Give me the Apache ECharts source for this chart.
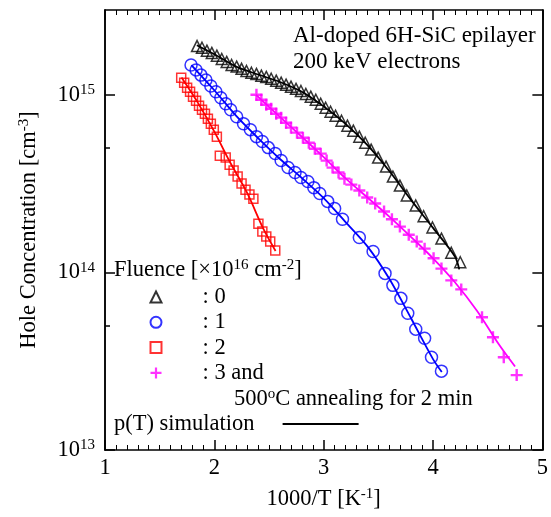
<!DOCTYPE html>
<html><head><meta charset="utf-8">
<script src="https://cdn.jsdelivr.net/npm/echarts@6/dist/echarts.min.js"></script>
<style>html,body{margin:0;padding:0;background:#fff}#c{width:551px;height:517px}</style>
</head><body><div id="c"></div>
<script>
// x: 1000/T [1/K], y: hole concentration [cm^-3]
const fluence0 = [[1.842,1.88e15],[1.887,1.84e15],[1.932,1.77e15],[1.977,1.72e15],[2.023,1.66e15],[2.068,1.59e15],[2.113,1.53e15],[2.158,1.47e15],[2.204,1.44e15],[2.249,1.40e15],[2.294,1.36e15],[2.339,1.33e15],[2.385,1.31e15],[2.430,1.28e15],[2.475,1.26e15],[2.520,1.23e15],[2.566,1.20e15],[2.611,1.17e15],[2.656,1.14e15],[2.701,1.11e15],[2.747,1.08e15],[2.792,1.05e15],[2.837,1.01e15],[2.882,9.75e14],[2.928,9.37e14],[2.973,8.90e14],[3.018,8.45e14],[3.063,8.02e14],[3.109,7.62e14],[3.163,7.14e14],[3.217,6.70e14],[3.271,6.28e14],[3.326,5.81e14],[3.380,5.37e14],[3.434,4.91e14],[3.498,4.43e14],[3.570,3.94e14],[3.633,3.46e14],[3.697,3.08e14],[3.760,2.71e14],[3.842,2.38e14],[3.914,2.07e14],[3.995,1.79e14],[4.077,1.55e14],[4.167,1.29e14],[4.249,1.14e14]];
const fit0 = [[1.84,1.9e15],[2.0,1.69e15],[2.2,1.44e15],[2.4,1.30e15],[2.6,1.18e15],[2.8,1.04e15],[3.0,8.6e14],[3.2,6.85e14],[3.4,5.2e14],[3.6,3.72e14],[3.8,2.55e14],[4.0,1.78e14],[4.2,1.23e14],[4.24,1.04e14]];

const fluence1 = [[1.787,1.47e15],[1.833,1.38e15],[1.878,1.29e15],[1.923,1.21e15],[1.968,1.12e15],[2.014,1.04e15],[2.059,9.62e14],[2.104,8.90e14],[2.149,8.24e14],[2.204,7.52e14],[2.267,6.87e14],[2.330,6.36e14],[2.385,5.81e14],[2.439,5.45e14],[2.493,5.04e14],[2.557,4.67e14],[2.611,4.26e14],[2.674,3.89e14],[2.738,3.65e14],[2.792,3.42e14],[2.855,3.25e14],[2.910,3.00e14],[2.964,2.78e14],[3.036,2.51e14],[3.100,2.29e14],[3.172,1.99e14],[3.326,1.57e14],[3.452,1.31e14],[3.561,9.87e13],[3.633,8.45e13],[3.706,7.14e13],[3.769,5.89e13],[3.842,4.79e13],[3.923,4.26e13],[3.986,3.33e13],[4.077,2.78e13]];
const fit1 = [[1.79,1.47e15],[2.0,1.06e15],[2.2,7.6e14],[2.4,5.7e14],[2.6,4.35e14],[2.8,3.4e14],[3.0,2.62e14],[3.2,1.92e14],[3.4,1.4e14],[3.6,9.2e13],[3.8,5.5e13],[4.0,3.25e13],[4.08,2.75e13]];

const fluence2 = [[1.697,1.246e15],[1.724,1.168e15],[1.751,1.095e15],[1.778,1.04e15],[1.805,9.74e14],[1.833,9.25e14],[1.860,8.67e14],[1.887,8.24e14],[1.914,7.82e14],[1.941,7.33e14],[1.968,6.87e14],[1.995,6.36e14],[2.023,5.81e14],[2.050,4.54e14],[2.104,4.43e14],[2.140,4.04e14],[2.176,3.74e14],[2.213,3.46e14],[2.249,3.16e14],[2.285,2.92e14],[2.321,2.74e14],[2.357,2.60e14],[2.403,1.88e14],[2.439,1.70e14],[2.475,1.59e14],[2.511,1.49e14],[2.557,1.33e14]];
const fit2 = [[1.70,1.25e15],[1.85,9.0e14],[2.0,6.2e14],[2.15,4.1e14],[2.3,2.8e14],[2.45,1.75e14],[2.56,1.32e14]];

const fluence3 = [[2.385,1.00e15],[2.430,9.37e14],[2.475,8.79e14],[2.520,8.34e14],[2.566,7.82e14],[2.611,7.43e14],[2.656,6.96e14],[2.701,6.53e14],[2.756,6.12e14],[2.810,5.73e14],[2.864,5.37e14],[2.919,4.97e14],[2.973,4.66e14],[3.027,4.26e14],[3.081,3.89e14],[3.136,3.65e14],[3.190,3.37e14],[3.253,3.12e14],[3.326,2.89e14],[3.398,2.64e14],[3.471,2.44e14],[3.552,2.20e14],[3.624,1.99e14],[3.697,1.81e14],[3.778,1.63e14],[3.851,1.49e14],[3.923,1.36e14],[4.005,1.20e14],[4.077,1.05e14],[4.167,9.01e13],[4.258,8.02e13],[4.448,5.59e13],[4.548,4.31e13],[4.647,3.33e13],[4.765,2.64e13]];
const fit3 = [[2.38,1.0e15],[2.6,7.5e14],[2.8,5.8e14],[3.0,4.45e14],[3.2,3.38e14],[3.4,2.64e14],[3.6,2.06e14],[3.8,1.58e14],[4.0,1.2e14],[4.2,8.8e13],[4.4,6.1e13],[4.6,3.95e13],[4.75,2.95e13]];

const seriesNames = [': 0', ': 1', ': 2', ': 3 and'];
const yMajorTicks = [1e13, 1e14, 1e15];
const yMinorTicks = [5e13, 5e14];
const xRange = [1, 5];
const yRange = [1e13, 3e15];

const FONT = 'Liberation Serif';
const FS = 22.5;
const sup = {fontSize: 15, fontFamily: FONT, color: '#000', verticalAlign: 'top', lineHeight: 15};
const base = {fontSize: FS, fontFamily: FONT, color: '#000', lineHeight: 24};
const plusPath = 'path://M4,0h2v4h4v2h-4v4h-2v-4h-4v-2h4z';

function yAxisDef(pos, ticks, len, labels) {
  return {
    type: 'log', logBase: 10, min: yRange[0], max: yRange[1], position: pos,
    axisLine: {show: true, onZero: false, lineStyle: {color: '#000', width: 1.5}},
    axisTick: {show: true, inside: true, length: len, customValues: ticks, lineStyle: {color: '#000', width: 1.5}},
    axisLabel: labels ? {
      show: true, customValues: ticks, margin: 10,
      formatter: v => '{b|10}{s|' + Math.round(Math.log10(v)) + '}',
      rich: {b: base, s: sup}
    } : {show: false},
    splitLine: {show: false}, minorTick: {show: false}, minorSplitLine: {show: false}
  };
}
function xAxisDef(pos, labels) {
  return {
    type: 'value', min: xRange[0], max: xRange[1], interval: 1, position: pos,
    axisLine: {show: true, onZero: false, lineStyle: {color: '#000', width: 1.5}},
    axisTick: {show: true, inside: true, length: 10, lineStyle: {color: '#000', width: 1.5}},
    minorTick: {show: true, splitNumber: 10, length: 5, lineStyle: {color: '#000', width: 1}},
    axisLabel: labels ? {show: true, color: '#000', fontSize: FS, fontFamily: FONT, margin: 7} : {show: false},
    splitLine: {show: false}
  };
}

const xBottom = xAxisDef('bottom', true);
xBottom.name = '{b|1000/T [K}{s|-1}{b|]}';
xBottom.nameLocation = 'middle';
xBottom.nameGap = 37;
xBottom.nameTextStyle = {rich: {b: base, s: sup}};

const yLeft = yAxisDef('left', yMajorTicks, 10, true);
yLeft.name = '{b|Hole Concentration [cm}{s|-3}{b|]}';
yLeft.nameLocation = 'middle';
yLeft.nameGap = 64;
yLeft.nameRotate = 90;
yLeft.nameTextStyle = {rich: {b: base, s: sup}};

const colors = ['#000000', '#0000ff', '#ff0000', '#ff00ff'];
const pts = [fluence0, fluence1, fluence2, fluence3];
const fits = [fit0, fit1, fit2, fit3];
const symbols = ['triangle', 'circle', 'rect', plusPath];
const sizes = [11, 12, 9, 12];

const series = [];
for (let i = 0; i < 4; i++) {
  series.push({
    type: 'line', name: 'fit' + i, data: fits[i], smooth: 0.3, symbol: 'none',
    lineStyle: {color: colors[i], width: 1.8}, itemStyle: {color: colors[i]}, z: 2, silent: true
  });
}
for (let i = 0; i < 4; i++) {
  const isPlus = i === 3;
  series.push({
    type: 'scatter', name: seriesNames[i], data: pts[i], symbol: symbols[i], symbolSize: sizes[i],
    symbolKeepAspect: true,
    itemStyle: isPlus ? {color: colors[i]} : {color: 'rgba(255,255,255,0)', borderColor: colors[i], borderWidth: 1.5},
    z: 3
  });
}
series.push({type: 'line', name: 'p(T) simulation', data: [], symbol: 'none', lineStyle: {color: '#000', width: 1.5}, itemStyle: {color: '#000'}});

const option = {
  backgroundColor: '#fff',
  animation: false,
  grid: {left: 105, right: 5, top: 10, bottom: 67},
  xAxis: [xBottom, xAxisDef('top', false)],
  yAxis: [yLeft, yAxisDef('left', yMinorTicks, 5, false), yAxisDef('right', yMajorTicks, 10, false), yAxisDef('right', yMinorTicks, 5, false)],
  legend: [{
    data: seriesNames, orient: 'vertical', left: 149.5, top: 285, padding: 0,
    itemWidth: 11, itemHeight: 11, itemGap: 1.3,
    textStyle: {fontSize: FS, fontFamily: FONT, color: '#000', lineHeight: 24, padding: [0, 0, 0, 36]},
    selectedMode: false
  }, {
    data: [{name: 'p(T) simulation', icon: 'rect'}], orient: 'horizontal', left: 114, top: 412, padding: 0, align: 'right',
    itemWidth: 76, itemHeight: 1.8,
    textStyle: {fontSize: FS, fontFamily: FONT, color: '#000', lineHeight: 24, padding: [0, 23, 0, 0]},
    selectedMode: false
  }],
  graphic: [
    {type: 'text', x: 293, y: 36, style: {text: 'Al-doped 6H-SiC epilayer', font: '23px "Liberation Serif"', fill: '#000', verticalAlign: 'middle'}},
    {type: 'text', x: 293, y: 62, style: {text: '200 keV electrons', font: '23px "Liberation Serif"', fill: '#000', verticalAlign: 'middle'}},
    {type: 'text', x: 114, y: 270, style: {text: '{b|Fluence [×10}{s|16}{b| cm}{s|-2}{b|]}', rich: {b: base, s: sup}, verticalAlign: 'middle'}},
    {type: 'text', x: 234, y: 399, style: {text: '{b|500}{s|o}{b|C annealing for 2 min}', rich: {b: base, s: sup}, verticalAlign: 'middle'}}
  ],
  series: series
};
const chart = echarts.init(document.getElementById('c'), null, {renderer: 'canvas'});
chart.setOption(option);
</script>
</body></html>
